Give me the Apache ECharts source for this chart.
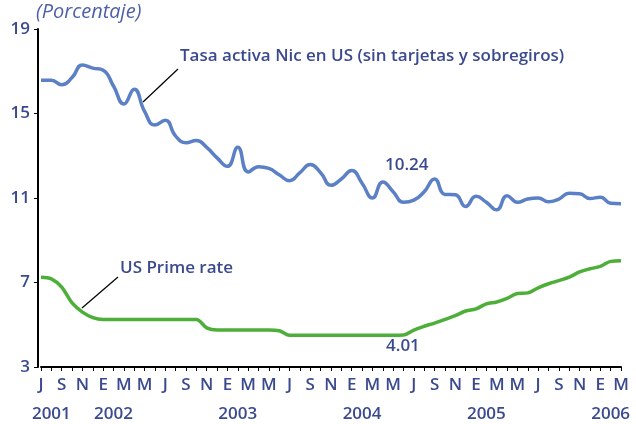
<!DOCTYPE html>
<html>
<head>
<meta charset="utf-8">
<script src="https://cdn.jsdelivr.net/npm/echarts@6/dist/echarts.min.js"></script>
<style>
  html, body { margin: 0; padding: 0; background: #fff; }
  #chart { width: 636px; height: 424px; }
</style>
</head>
<body>
<div id="chart"></div>
<script>
// meses: julio 2001 - marzo 2006
var months = [];
for (var y = 2001; y <= 2006; y++) {
    for (var m = 1; m <= 12; m++) {
        if ((y == 2001 && m < 7) || (y == 2006 && m > 3)) continue;
        months.push(y + '-' + (m < 10 ? '0' + m : m));
    }
}
var monthInitials = ['E', 'F', 'M', 'A', 'M', 'J', 'J', 'A', 'S', 'O', 'N', 'D'];
var yearLabelIdx = [1, 7, 19, 31, 43, 55];

var tasaNic = [16.57, 16.57, 16.36, 16.7, 17.3, 17.15, 17.05, 16.3, 15.45, 16.15,
               15.1, 14.45, 14.68, 13.93, 13.62, 13.72, 13.4, 12.9, 12.5, 13.4,
               12.23, 12.48, 12.4, 12.1, 11.82, 12.2, 12.58, 12.2, 11.6, 11.9,
               12.3, 11.7, 11.0, 11.76, 11.3, 10.8, 10.9, 11.3, 11.9, 11.17,
               11.15, 10.6, 11.08, 10.8, 10.44, 11.11, 10.8, 10.95, 11.0, 10.82,
               10.95, 11.22, 11.2, 10.98, 11.03, 10.75, 10.73];

var primeRate = [7.25, 7.17, 6.78, 6.03, 5.6, 5.34, 5.25, 5.25, 5.25, 5.25,
                 5.25, 5.25, 5.25, 5.25, 5.25, 5.25, 4.85, 4.75, 4.75, 4.75,
                 4.75, 4.75, 4.75, 4.72, 4.5, 4.5, 4.5, 4.5, 4.5, 4.5,
                 4.5, 4.5, 4.5, 4.5, 4.5, 4.51, 4.75, 4.93, 5.08, 5.25,
                 5.43, 5.65, 5.75, 5.99, 6.08, 6.25, 6.48, 6.51, 6.75, 6.94,
                 7.09, 7.25, 7.5, 7.65, 7.76, 8.0, 8.03];

var yTicks = [3, 19, 4]; // min, max, intervalo

var navy = '#3b4a8f';
var font = 'Open Sans';

var dom = document.getElementById('chart');
var myChart = echarts.init(dom);

option = {
    animation: false,
    textStyle: { fontFamily: font },
    grid: {
        left: 41,
        right: 15,
        top: 29,
        bottom: 57,
        outerBoundsMode: 'none'
    },
    xAxis: [
        {
            type: 'category',
            data: months,
            boundaryGap: false,
            axisLine: { lineStyle: { color: '#000', width: 2 } },
            axisTick: { show: true, interval: 0, length: 4, lineStyle: { color: '#000' } },
            axisLabel: {
                interval: 1,
                margin: 10,
                color: navy,
                fontSize: 17,
                fontWeight: 600,
                fontFamily: font,
                formatter: function (v) {
                    return monthInitials[parseInt(v.slice(5), 10) - 1];
                }
            },
            splitLine: { show: false }
        },
        {
            type: 'category',
            data: months,
            position: 'bottom',
            boundaryGap: false,
            axisLine: { show: false },
            axisTick: { show: false },
            axisLabel: {
                interval: function (i) { return yearLabelIdx.indexOf(i) >= 0; },
                margin: 39,
                color: navy,
                fontSize: 17,
                fontWeight: 600,
                fontFamily: font,
                formatter: function (v) { return v.slice(0, 4); }
            },
            splitLine: { show: false }
        }
    ],
    yAxis: {
        type: 'value',
        min: yTicks[0],
        max: yTicks[1],
        interval: yTicks[2],
        offset: 3,
        axisLine: { show: true, lineStyle: { color: '#000', width: 2 } },
        axisTick: { show: true, length: 4, lineStyle: { color: '#000' } },
        axisLabel: { color: navy, fontSize: 17, fontWeight: 600, fontFamily: font, margin: 8 },
        splitLine: { show: false }
    },
    series: [
        {
            name: 'Tasa activa Nic en US (sin tarjetas y sobregiros)',
            type: 'line',
            data: tasaNic,
            smooth: 0.5,
            showSymbol: false,
            lineStyle: { color: '#5b80c6', width: 3.5 }
        },
        {
            name: 'US Prime rate',
            type: 'line',
            data: primeRate,
            smooth: 0.35,
            showSymbol: false,
            lineStyle: { color: '#4daf3a', width: 3.5 }
        }
    ],
    graphic: [
        { type: 'text', left: 36, top: 2,
          style: { text: '(Porcentaje)', fill: '#4d61aa', font: 'italic 20px ' + font } },
        { type: 'text', left: 180, top: 48,
          style: { text: 'Tasa activa Nic en US (sin tarjetas y sobregiros)', fill: navy, font: '600 17px ' + font } },
        { type: 'line', shape: { x1: 178, y1: 69, x2: 143, y2: 102 },
          style: { stroke: '#000', lineWidth: 1.2 } },
        { type: 'text', left: 120, top: 260,
          style: { text: 'US Prime rate', fill: navy, font: '600 17px ' + font } },
        { type: 'line', shape: { x1: 118, y1: 277, x2: 82, y2: 308 },
          style: { stroke: '#000', lineWidth: 1.2 } },
        { type: 'text', left: 385, top: 157,
          style: { text: '10.24', fill: navy, font: '600 17px ' + font } },
        { type: 'text', left: 386, top: 338,
          style: { text: '4.01', fill: navy, font: '600 17px ' + font } }
    ]
};

myChart.setOption(option);
</script>
</body>
</html>
